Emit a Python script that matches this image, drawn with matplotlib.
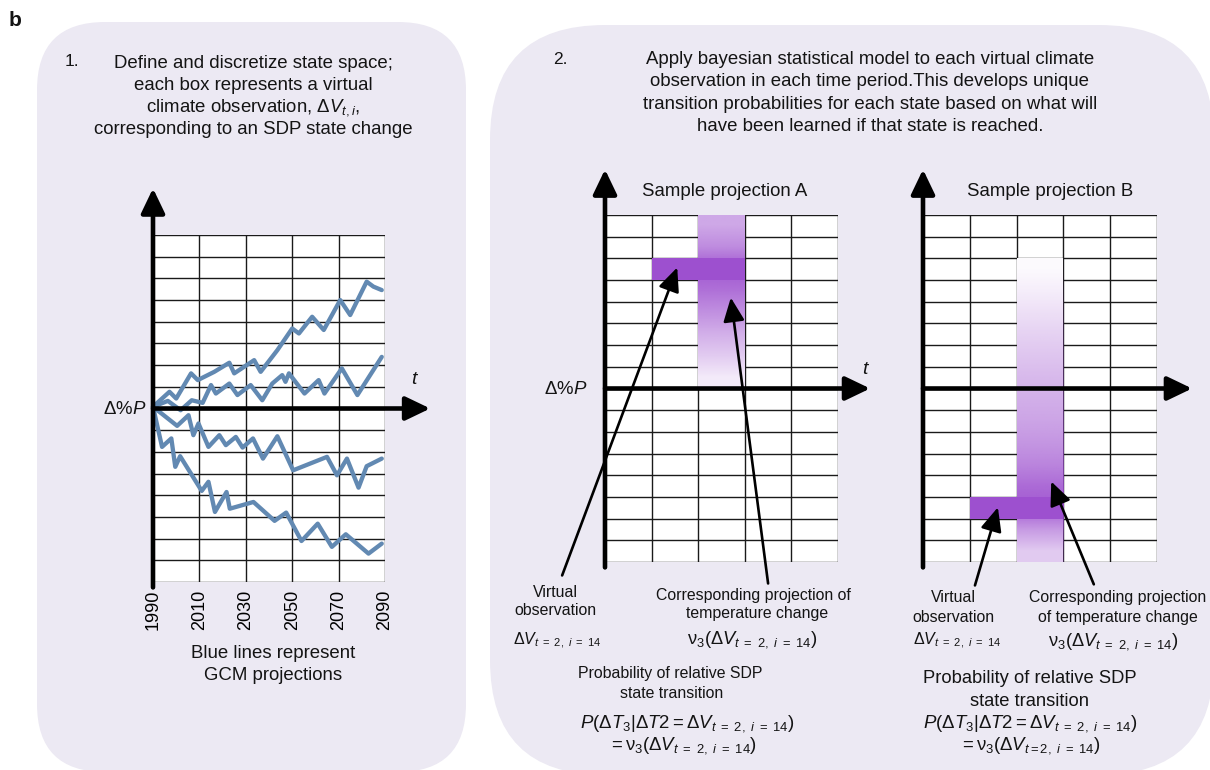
"""
SDP state space / bayesian transition diagram (panel b)
"""
import matplotlib.pyplot as plt
import numpy as np
from matplotlib.patches import FancyBboxPatch, Rectangle
from matplotlib.colors import to_rgb

plt.rcParams['font.family'] = ['Liberation Sans', 'DejaVu Sans']
plt.rcParams['mathtext.fontset'] = 'custom'
plt.rcParams['mathtext.rm'] = 'Liberation Sans'
plt.rcParams['mathtext.it'] = 'Liberation Sans:italic'
plt.rcParams['mathtext.bf'] = 'Liberation Sans:bold'
plt.rcParams['text.color'] = '#141414'

# ---------------- data ----------------
years = [1990, 2010, 2030, 2050, 2070, 2090]
state_edges = list(range(-8, 9))      # 16 discrete states, 0 = no change
steps = [0, 1, 2, 3, 4, 5]            # time periods of the SDP

# GCM projections (change in precipitation, in state units)
gcm1_year = [1990, 1997.1, 2000, 2006.4, 2009.3, 2016.4, 2022.9, 2025, 2033.6, 2036.4,
             2043.6, 2050, 2052.9, 2058.6, 2063.6, 2070.7, 2075, 2082.1, 2085, 2088.6]
gcm1_val = [0.08, 0.77, 0.46, 1.62, 1.31, 1.69, 2.11, 1.62, 2.23, 1.69,
            2.69, 3.69, 3.46, 4.23, 3.62, 5.0, 4.31, 5.85, 5.62, 5.46]
gcm2_year = [1990, 1996.4, 2001.9, 2006.7, 2011.4, 2015, 2017.1, 2022.9, 2026.4, 2032.1,
             2037.1, 2041.4, 2045.7, 2047.1, 2048.6, 2055.3, 2061.4, 2063.9, 2071.4, 2078.1, 2088.6]
gcm2_val = [0.08, 0.35, -0.08, 0.38, 0.26, 1.08, 0.69, 1.15, 0.62, 1.08,
            0.38, 1.15, 1.54, 1.23, 1.62, 0.69, 1.31, 0.69, 1.85, 0.62, 2.38]
gcm3_year = [1990, 2000.4, 2005.3, 2007.4, 2009.6, 2013.9, 2018.6, 2021.4, 2025.7, 2028.6,
             2033.1, 2037.4, 2043.6, 2050.4, 2065, 2069.3, 2073.6, 2078.6, 2082.1, 2088.6]
gcm3_val = [0.08, -0.80, -0.31, -1.23, -0.69, -1.77, -1.23, -1.69, -1.31, -1.80,
            -1.38, -2.31, -1.28, -2.85, -2.23, -3.08, -2.31, -3.65, -2.66, -2.31]
gcm4_year = [1990, 1993.9, 1997.9, 1999.6, 2001.7, 2011, 2013.9, 2016.7, 2021.7, 2023.1,
             2033.3, 2042.4, 2047.4, 2054, 2061, 2067.1, 2073.1, 2082.9, 2088.6]
gcm4_val = [0.08, -1.77, -1.38, -2.69, -2.2, -3.8, -3.38, -4.77, -3.85, -4.62,
            -4.31, -5.18, -4.8, -6.11, -5.31, -6.38, -5.8, -6.69, -6.23]

# sample projection A: virtual observation + posterior column (top row first)
obs_A_step, obs_A_state = 1, 5
proj_A_step, proj_A_top = 2, 8
proj_A_levels = [0.50, 0.66, 0.95, 0.82, 0.64, 0.46, 0.30, 0.12]

# sample projection B
obs_B_step, obs_B_state = 1, -6
proj_B_step, proj_B_top = 2, 6
proj_B_levels = [0.03, 0.10, 0.18, 0.26, 0.33, 0.40, 0.46, 0.52, 0.60, 0.70,
                 0.85, 0.95, 0.58, 0.30]

W, H = 1210, 770
panel_color = '#ECE9F3'
line_blue = '#6289B2'
purple = '#9D50CF'
grid_color = '#1a1a1a'

fig = plt.figure(figsize=(W / 100, H / 100), dpi=100)
bg = fig.add_axes([0, 0, 1, 1])
bg.set_xlim(0, W)
bg.set_ylim(H, 0)
bg.axis('off')


def px_axes(x0, y0, x1, y1):
    """axes placed with pixel box (top-left origin)"""
    return fig.add_axes([x0 / W, 1 - y1 / H, (x1 - x0) / W, (y1 - y0) / H])


def txt(x, y, s, size=13.4, **kw):
    kw.setdefault('ha', 'center')
    bg.text(x, y, s, fontsize=size, va='baseline', **kw)


# rounded panels
bg.add_patch(FancyBboxPatch((37, 22), 429, 750, boxstyle='round,pad=0,rounding_size=68',
                            fc=panel_color, ec='none'))
bg.add_patch(FancyBboxPatch((490, 25), 724, 750, boxstyle='round,pad=0,rounding_size=115',
                            fc=panel_color, ec='none'))

txt(15, 26, 'b', size=15, weight='bold')

# ---------------- headers ----------------
txt(72, 66, '1.', size=12.5)
head1 = ['Define and discretize state space;', 'each box represents a virtual',
         r'climate observation, $\Delta V_{t,i}$,', 'corresponding to an SDP state change']
for k, s in enumerate(head1):
    txt(253, 68 + 22 * k, s)

txt(560, 64, '2.', size=12.5)
head2 = ['Apply bayesian statistical model to each virtual climate',
         'observation in each time period.This develops unique',
         'transition probabilities for each state based on what will',
         'have been learned if that state is reached.']
for k, s in enumerate(head2):
    txt(870, 64 + 22.3 * k, s)


def draw_grid(ax, xs):
    ax.set_facecolor('white')
    ax.set_xlim(xs[0], xs[-1])
    ax.set_ylim(state_edges[0], state_edges[-1])
    for s in ax.spines.values():
        s.set_visible(False)
    ax.vlines(xs[1:], state_edges[0], state_edges[-1], color=grid_color, lw=1.0, zorder=1)
    ax.hlines(state_edges, xs[0], xs[-1], color=grid_color, lw=1.0, zorder=1)
    ax.set_yticks([])


def draw_axes_arrows(ax, x0, y_tip, x_tip):
    ap = dict(arrowstyle='-|>,head_length=0.75,head_width=0.36', lw=3.3, color='black',
              shrinkA=0, shrinkB=0, mutation_scale=20)
    ax.annotate('', xy=(x0, y_tip), xytext=(x0, -8.25), arrowprops=ap,
                annotation_clip=False, zorder=5)
    ax.annotate('', xy=(x_tip, 0), xytext=(x0, 0), arrowprops=ap,
                annotation_clip=False, zorder=5)


def pointer(ax, tip, start):
    ap = dict(arrowstyle='-|>,head_length=0.85,head_width=0.38', lw=1.9, color='black',
              shrinkA=0, shrinkB=0, mutation_scale=17)
    ax.annotate('', xy=tip, xytext=start, arrowprops=ap, annotation_clip=False, zorder=6)


def draw_column(ax, step, top, levels):
    bottom = top - len(levels)
    # white base hides the grid lines under the shaded column
    ax.add_patch(Rectangle((step, bottom), 1, len(levels), fc='white', ec='none', zorder=1.5))
    rgba = np.zeros((len(levels), 4, 4))
    rgba[..., :3] = to_rgb(purple)
    rgba[..., 3] = np.array(levels)[:, None]
    ax.imshow(rgba, extent=(step, step + 1, bottom, top), aspect='auto',
              interpolation='bilinear', zorder=2)
    ax.set_xlim(steps[0], steps[-1])
    ax.set_ylim(state_edges[0], state_edges[-1])


# ---------------- panel 1: GCM projections ----------------
ax1 = px_axes(153, 235, 385, 582)
draw_grid(ax1, years)
for yr, v in [(gcm1_year, gcm1_val), (gcm2_year, gcm2_val),
              (gcm3_year, gcm3_val), (gcm4_year, gcm4_val)]:
    ax1.plot(yr, v, color=line_blue, lw=3.1, solid_joinstyle='round',
             solid_capstyle='round', zorder=3, clip_on=False)
draw_axes_arrows(ax1, 1990, 10.15, 2109.5)
ax1.set_xticks(years)
ax1.set_xticklabels([str(y) for y in years], rotation=90, fontsize=13)
ax1.tick_params(axis='x', length=0, pad=5.5)

txt(146, 414, r'$\Delta\%P$', ha='right')
txt(415, 384, r'$t$', size=14)
txt(205, 340, r'$\Delta V_{2,12}$', size=11.5, ha='left')
txt(273, 658, 'Blue lines represent')
txt(273, 680, 'GCM projections')

# ---------------- panel 2: sample projection A ----------------
axA = px_axes(605, 215, 838, 562)
draw_grid(axA, steps)
axA.set_xticks([])
draw_column(axA, proj_A_step, proj_A_top, proj_A_levels)
axA.add_patch(Rectangle((obs_A_step, obs_A_state), 2, 1, fc=purple, ec='none', zorder=3))
draw_axes_arrows(axA, 0, 10.1, 5.69)
pointer(axA, (1.55, 5.58), (-0.92, -8.62))
pointer(axA, (2.70, 4.19), (3.50, -8.99))

txt(725, 196, 'Sample projection A')
txt(587, 394, r'$\Delta\%P$', ha='right')
txt(866, 374, r'$t$', size=14)

sub = r'{t\ =\ 2,\ i\ =\ 14}'
txt(555, 597, 'Virtual', size=11.4)
txt(555, 615, 'observation', size=11.4)
txt(513, 645, r'$\Delta V_' + sub + '$', size=11.5, ha='left')
txt(753, 600, 'Corresponding projection of', size=11.4)
txt(757, 618, 'temperature change', size=11.4)
txt(752, 643, r'$\mathrm{\nu}_3(\Delta V_' + sub + ')$', size=13.2)
txt(670, 678, 'Probability of relative SDP', size=11.4)
txt(672, 698, 'state transition', size=11.4)
txt(687, 728, r'$P(\Delta T_3|\Delta \mathit{T2} = \Delta V_' + sub + ')$', size=13.4)
txt(683, 749, r'$= \mathrm{\nu}_3(\Delta V_' + sub + ')$', size=13.4)

# ---------------- panel 2: sample projection B ----------------
axB = px_axes(923, 215, 1157, 562)
draw_grid(axB, steps)
axB.set_xticks([])
draw_column(axB, proj_B_step, proj_B_top, proj_B_levels)
axB.add_patch(Rectangle((obs_B_step, obs_B_state), 2, 1, fc=purple, ec='none', zorder=3))
draw_axes_arrows(axB, 0, 10.1, 5.75)
pointer(axB, (1.60, -5.48), (1.11, -9.08))
pointer(axB, (2.74, -4.29), (3.65, -9.03))

txt(1050, 196, 'Sample projection B')
txt(953, 602, 'Virtual', size=11.4)
txt(953, 622, 'observation', size=11.4)
txt(957, 645, r'$\Delta V_' + sub + '$', size=11.5)
txt(1118, 602, 'Corresponding projection', size=11.4)
txt(1118, 622, 'of temperature change', size=11.4)
txt(1113, 646, r'$\mathrm{\nu}_3(\Delta V_' + sub + ')$', size=13.2)
txt(1030, 683, 'Probability of relative SDP', size=13.2)
txt(1030, 706, 'state transition', size=13.2)
txt(1030, 728, r'$P(\Delta T_3|\Delta \mathit{T2} = \Delta V_' + sub + ')$', size=13.4)
txt(1030, 749, r'$= \mathrm{\nu}_3(\Delta V_{t=2,\ i\ =\ 14})$', size=13.4)

plt.savefig('out.png', dpi=100)
plt.close()
